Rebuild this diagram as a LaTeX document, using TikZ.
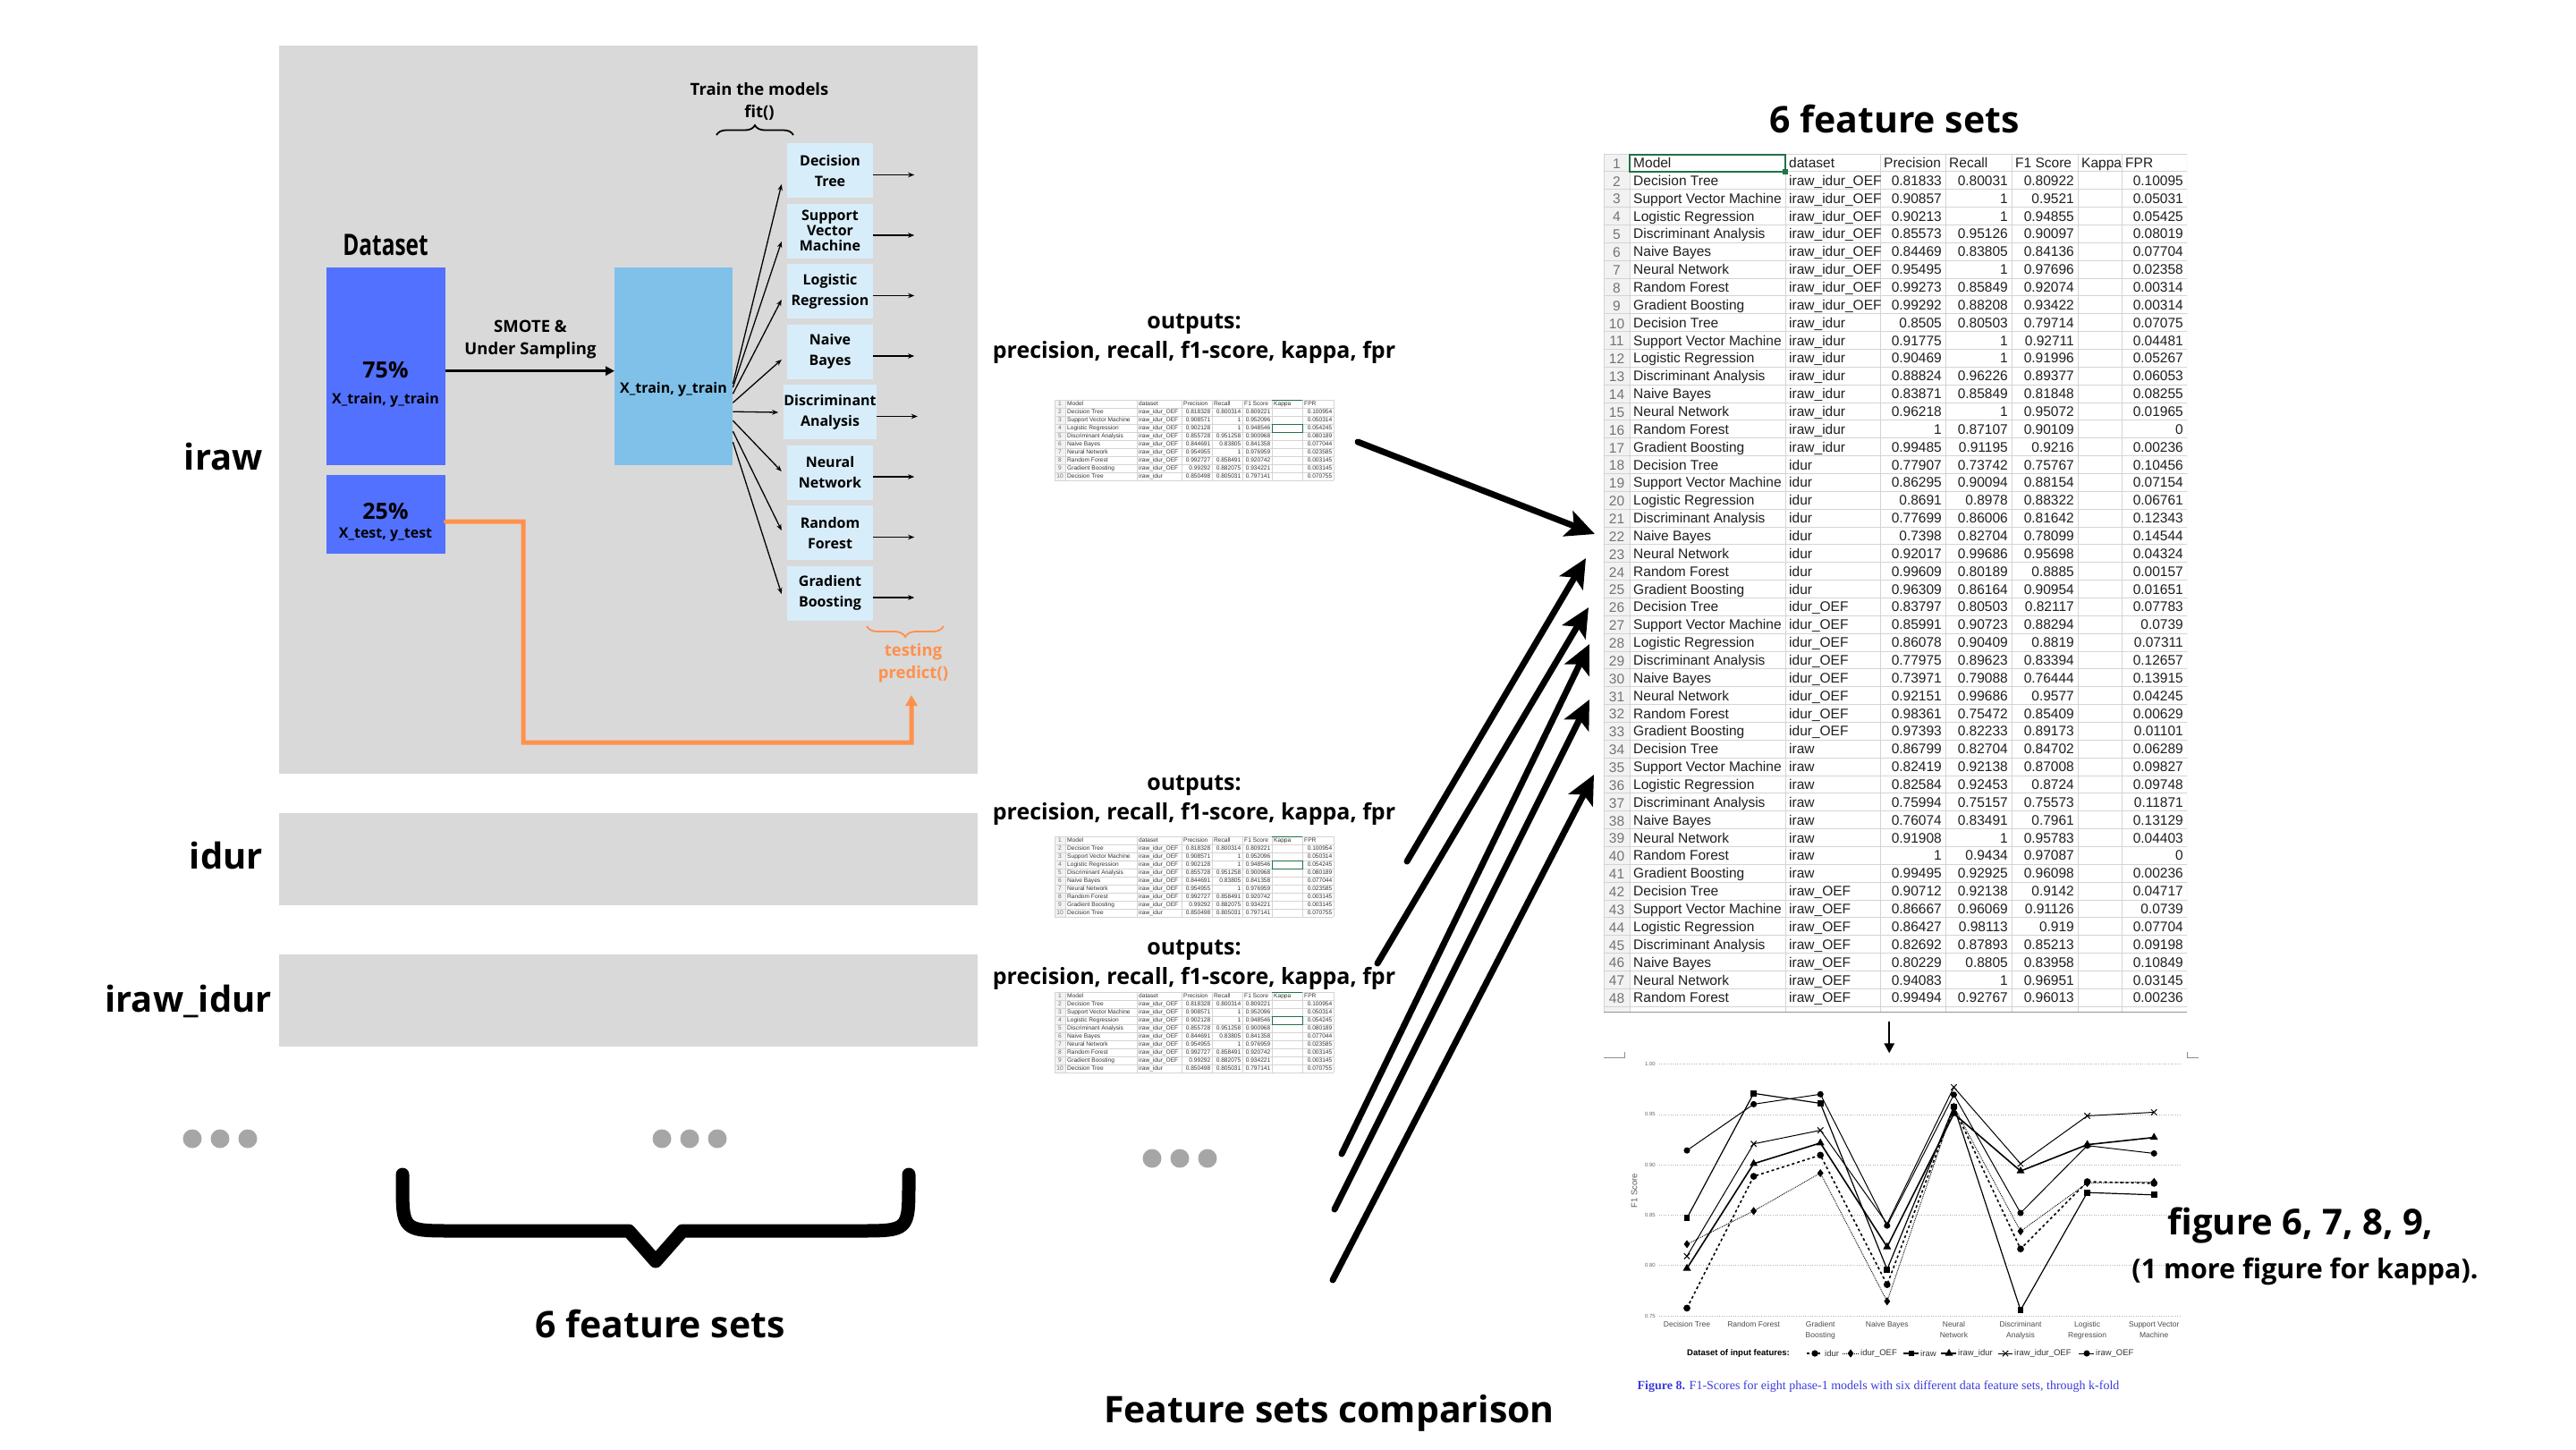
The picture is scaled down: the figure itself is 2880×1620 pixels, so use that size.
\documentclass[tikz,border=0pt]{standalone}
\usepackage{graphicx}
\usepackage{fontspec}
\setmainfont{Open Sans}
\newfontfamily\xlsfont{Liberation Sans}
\newfontfamily\capfont{Liberation Serif}
\usetikzlibrary{positioning,calc,arrows.meta,decorations.pathreplacing,plotmarks}
\definecolor{panelgray}{RGB}{217,217,217}
\definecolor{dsblue}{RGB}{82,113,255}
\definecolor{trainblue}{RGB}{128,193,233}
\definecolor{modelblue}{RGB}{216,237,250}
\definecolor{testorange}{RGB}{255,145,77}
\definecolor{dotgray}{RGB}{166,166,166}
\definecolor{gridgray}{RGB}{212,212,212}
\definecolor{xlgreen}{RGB}{33,115,70}
\definecolor{capblue}{RGB}{60,60,220}
\newcommand\fsz[2]{\fontsize{#1}{#2}\selectfont}
\tikzset{
  stab/.style={font=\xlsfont\fsz{6.6}{7}, inner sep=0pt, text=black!80},
  btab/.style={font=\xlsfont\fsz{15.5}{17}, inner sep=0pt, text=black!88},
}

% little excel screenshot under each outputs label
\newcommand\smalltab[2]{%
\begin{scope}[shift={(#1,#2)}]
  \fill[white] (0,0) rectangle (312,90);
  \fill[black!5] (0,0) rectangle (12,90);
  \foreach \r in {0,...,10} \draw[gridgray, line width=0.5pt] (0,9*\r) -- (312,9*\r);
  \foreach \c in {0,12,92,142,176,210,243,277,312} \draw[gridgray, line width=0.5pt] (\c,0) -- (\c,90);
  \draw[xlgreen, line width=0.8pt] (243,0) -- (277,0);
  \draw[xlgreen, line width=0.8pt] (243,27) rectangle (277,36);
  \node[stab, text=black!55] at (6,4.5) {1};
  \foreach \c/\txt in {14/Model,94/dataset,144/Precision,178/Recall,212/F1 Score,245/Kappa,279/FPR}
    \node[stab, anchor=base west] at (\c,6.9) {\txt};
  \foreach \m/\dd/\p/\rc/\f/\fp [count=\k from 2] in {
    Decision Tree/iraw\_idur\_OEF/0.818328/0.800314/0.809221/0.100954,
    Support Vector Machine/iraw\_idur\_OEF/0.908571/1/0.952096/0.050314,
    Logistic Regression/iraw\_idur\_OEF/0.902128/1/0.948546/0.054245,
    Discriminant Analysis/iraw\_idur\_OEF/0.855728/0.951258/0.900968/0.080189,
    Naive Bayes/iraw\_idur\_OEF/0.844691/0.83805/0.841358/0.077044,
    Neural Network/iraw\_idur\_OEF/0.954955/1/0.976959/0.023585,
    Random Forest/iraw\_idur\_OEF/0.992727/0.858491/0.920742/0.003145,
    Gradient Boosting/iraw\_idur\_OEF/0.99292/0.882075/0.934221/0.003145,
    Decision Tree/iraw\_idur/0.850498/0.805031/0.797141/0.070755}{
    \node[stab, text=black!55] at (6,{9*\k-4.5}) {\k};
    \node[stab, anchor=base west] at (14,{9*\k-2.1}) {\m};
    \node[stab, anchor=base west] at (94,{9*\k-2.1}) {\dd};
    \node[stab, anchor=base east] at (174.5,{9*\k-2.1}) {\p};
    \node[stab, anchor=base east] at (208.5,{9*\k-2.1}) {\rc};
    \node[stab, anchor=base east] at (241.5,{9*\k-2.1}) {\f};
    \node[stab, anchor=base east] at (310.5,{9*\k-2.1}) {\fp};
  }
\end{scope}}

\begin{document}
\begin{tikzpicture}[x=1pt, y=-1pt, >=Stealth,
    panel/.style={fill=panelgray, inner sep=0pt, anchor=north west},
    setlabel/.style={font=\bfseries\fsz{40}{48}, anchor=base east, inner sep=0pt},
    dsbox/.style={fill=dsblue, inner sep=0pt, minimum width=133pt, anchor=north west},
    modelbox/.style={fill=modelblue, inner sep=0pt, minimum width=96pt, minimum height=61pt, align=center, font=\bfseries\fsz{16}{23}},
    fitarrow/.style={line width=1.3pt, -{Stealth[length=7pt,width=5.5pt]}},
    bigarrow/.style={line width=7pt, line cap=round, -{Stealth[length=32pt,width=30pt,inset=7pt]}},
    note/.style={font=\bfseries\fsz{18.5}{25}, align=center, inner sep=0pt},
    outlbl/.style={font=\bfseries\fsz{25}{33}, align=center, inner sep=0pt},
    bigtitle/.style={font=\bfseries\fsz{41}{48}, inner sep=0pt},
    tick/.style={font=\xlsfont\fsz{6}{7}, text=black!60, inner sep=0pt},
    lgd/.style={font=\xlsfont\fsz{9.5}{10}, text=black!80, inner sep=0pt, anchor=west},
    sidur/.style={line width=1.6pt, dashed, mark=*, mark size=3pt, mark options={solid, fill=black}},
    sidurO/.style={line width=0.9pt, densely dotted, mark=diamond*, mark size=3.8pt, mark options={solid, fill=black}},
    siraw/.style={line width=1.2pt, mark=square*, mark size=2.8pt, mark options={fill=black}},
    sirawidur/.style={line width=1.6pt, mark=triangle*, mark size=3.6pt, mark options={fill=black}},
    sirawidurO/.style={line width=1pt, mark=x, mark size=4.5pt},
    sirawO/.style={line width=1pt, mark=*, mark size=3pt, mark options={fill=black}}]

    \useasboundingbox (0,0) rectangle (2880,1620);
    \fill[white] (0,0) rectangle (2880,1620);

    % feature set panels
    \node[panel, minimum width=781pt, minimum height=814pt] (irawp) at (312,51) {};
    \node[panel, minimum width=781pt, minimum height=103pt] (idurp) at (312,909) {};
    \node[panel, minimum width=781pt, minimum height=103pt] (iidp) at (312,1067) {};
    \node[setlabel] (lraw) at (294,525) {iraw};
    \node[setlabel] (ldur) at (294,971) {idur};
    \node[setlabel] (lrawdur) at (304,1131) {iraw\_idur};

    \node[font=\bfseries\fsz{33}{38}, inner sep=0pt] (dstitle) at (431,274) {\scalebox{0.74}[1]{Dataset}};
    \node[dsbox, minimum height=221pt] (train) at (365,299) {};
    \node[dsbox, minimum height=88pt] (test) at (365,531) {};
    \node[font=\bfseries\fsz{25}{30}, inner sep=0pt] (pct75) at (431,414) {75\%};
    \node[font=\bfseries\fsz{16}{20}, inner sep=0pt] (trlbl) at (431,447) {X\_train, y\_train};
    \node[font=\bfseries\fsz{25}{30}, inner sep=0pt] (pct25) at (431,572) {25\%};
    \node[font=\bfseries\fsz{16}{20}, inner sep=0pt] (telbl) at (431,598) {X\_test, y\_test};

    \node[fill=trainblue, inner sep=0pt, minimum width=132pt, minimum height=221pt, anchor=north west] (xtr) at (687,299) {};
    \node[font=\bfseries\fsz{16}{20}, inner sep=0pt] (xtrlbl) at (753,435) {X\_train, y\_train};
    \draw[line width=2.5pt, -{Triangle[length=10pt,width=10pt]}] ($(train.east)+(0,5)$) -- ($(xtr.west)+(0,5)$);
    \node[note] (smote) at (593,380) {SMOTE \&\\Under Sampling};

    \node[note] (fitlbl) at (849,113) {Train the models\\fit()};
    \draw[decorate, decoration={brace, amplitude=11pt}, line width=1.8pt] (801,151) -- (887,151);

    \foreach \i/\txt/\s/\e in {1/{Decision\\Tree}/19.5/15.5, 2/{Support\\[-6pt]Vector\\[-6pt]Machine}/23.5/12,
        3/{Logistic\\Regression}/30.5/9.5, 4/{Naive\\Bayes}/40.5/9, 5/{Discriminant\\Analysis}/50.5/0.5,
        6/{Neural\\Network}/60.5/-1, 7/{Random\\Forest}/72.5/-2.5, 8/{Gradient\\Boosting}/84.5/1}{
        \node[modelbox] (m\i) at (928,{190.5+67.5*(\i-1)}) {\txt};
        \draw[fitarrow] ($(xtr.east)+(0,\s)$) -- ($(m\i.west)+(-6,\e)$);
        \draw[fitarrow] ($(m\i.east)+(0,5)$) -- ++(46,0);
    }

    \node[note, text=testorange] (tst) at (1021,741) {testing\\predict()};
    \draw[decorate, decoration={brace, amplitude=12pt}, testorange, line width=1.8pt] (1055,700) -- (969,700);
    \coordinate (predin) at (1019,777);
    \draw[testorange, line width=5pt, line cap=round, -{Triangle[length=12pt,width=13pt]}]
        ($(test.east)+(0,8)$) -- (585,583) -- (585,830) -- (1019,830) -- (predin);

    \foreach \cx/\cy in {246/1273, 771/1273, 1319/1295}
        \foreach \dx in {-31,0,31} \fill[dotgray] (\cx+\dx,\cy) circle (10.5pt);

    \draw[line width=15pt, line cap=round, line join=round] (450,1313) -- (450,1322) .. controls (450,1376) .. (507,1376)
        -- (703,1376) -- (733,1410) -- (763,1376) -- (959,1376) .. controls (1016,1376) .. (1016,1322) -- (1016,1313);
    \node[bigtitle] (setsA) at (738,1480) {6 feature sets};

    % model outputs
    \node[outlbl] (out1) at (1335,379) {outputs:\\precision, recall, f1-score, kappa, fpr};
    \node[outlbl] (out2) at (1335,895) {outputs:\\precision, recall, f1-score, kappa, fpr};
    \node[outlbl] (out3) at (1335,1079) {outputs:\\precision, recall, f1-score, kappa, fpr};
    \smalltab{1179}{447}
    \smalltab{1179}{935}
    \smalltab{1179}{1109}

    % collected results
    \node[bigtitle] (setsB) at (2118,133) {6 feature sets};
    \node[inner sep=0pt, minimum width=652pt, minimum height=960pt, anchor=north west] (bigtab) at (1793,172) {};
    \begin{scope}[shift={(1793,172)}]
        \def\rh{19.86}
        \clip (0,0) rectangle (652,960);
        \fill[black!5] (0,0) rectangle (29,960);
        \foreach \r in {0,...,48} \draw[gridgray, line width=1pt] (0,\r*\rh) -- (652,\r*\rh);
        \foreach \c in {0,29,203,309,382,456,530,579,652} \draw[gridgray, line width=1pt] (\c,0) -- (\c,960);
        \draw[gridgray!70!black, line width=1pt] (0,959) -- (652,959);
        \draw[xlgreen, line width=2pt] (29,0.5) rectangle (203,\rh);
        \fill[xlgreen] (200,{\rh-3}) rectangle (206,{\rh+3});
        \node[btab, text=black!55] at (14.5,{0.5*\rh+1}) {1};
        \foreach \c/\txt in {33/Model,207/dataset,313/Precision,386/Recall,460/F1 Score,534/Kappa,583/FPR}
            \node[btab, anchor=base west] at (\c,{0.5*\rh+5.5}) {\txt};
        \foreach \m/\dd/\p/\rc/\f/\fp [count=\k from 2] in {
            Decision Tree/iraw\_idur\_OEF/0.81833/0.80031/0.80922/0.10095,
            Support Vector Machine/iraw\_idur\_OEF/0.90857/1/0.9521/0.05031,
            Logistic Regression/iraw\_idur\_OEF/0.90213/1/0.94855/0.05425,
            Discriminant Analysis/iraw\_idur\_OEF/0.85573/0.95126/0.90097/0.08019,
            Naive Bayes/iraw\_idur\_OEF/0.84469/0.83805/0.84136/0.07704,
            Neural Network/iraw\_idur\_OEF/0.95495/1/0.97696/0.02358,
            Random Forest/iraw\_idur\_OEF/0.99273/0.85849/0.92074/0.00314,
            Gradient Boosting/iraw\_idur\_OEF/0.99292/0.88208/0.93422/0.00314,
            Decision Tree/iraw\_idur/0.8505/0.80503/0.79714/0.07075,
            Support Vector Machine/iraw\_idur/0.91775/1/0.92711/0.04481,
            Logistic Regression/iraw\_idur/0.90469/1/0.91996/0.05267,
            Discriminant Analysis/iraw\_idur/0.88824/0.96226/0.89377/0.06053,
            Naive Bayes/iraw\_idur/0.83871/0.85849/0.81848/0.08255,
            Neural Network/iraw\_idur/0.96218/1/0.95072/0.01965,
            Random Forest/iraw\_idur/1/0.87107/0.90109/0,
            Gradient Boosting/iraw\_idur/0.99485/0.91195/0.9216/0.00236,
            Decision Tree/idur/0.77907/0.73742/0.75767/0.10456,
            Support Vector Machine/idur/0.86295/0.90094/0.88154/0.07154,
            Logistic Regression/idur/0.8691/0.8978/0.88322/0.06761,
            Discriminant Analysis/idur/0.77699/0.86006/0.81642/0.12343,
            Naive Bayes/idur/0.7398/0.82704/0.78099/0.14544,
            Neural Network/idur/0.92017/0.99686/0.95698/0.04324,
            Random Forest/idur/0.99609/0.80189/0.8885/0.00157,
            Gradient Boosting/idur/0.96309/0.86164/0.90954/0.01651,
            Decision Tree/idur\_OEF/0.83797/0.80503/0.82117/0.07783,
            Support Vector Machine/idur\_OEF/0.85991/0.90723/0.88294/0.0739,
            Logistic Regression/idur\_OEF/0.86078/0.90409/0.8819/0.07311,
            Discriminant Analysis/idur\_OEF/0.77975/0.89623/0.83394/0.12657,
            Naive Bayes/idur\_OEF/0.73971/0.79088/0.76444/0.13915,
            Neural Network/idur\_OEF/0.92151/0.99686/0.9577/0.04245,
            Random Forest/idur\_OEF/0.98361/0.75472/0.85409/0.00629,
            Gradient Boosting/idur\_OEF/0.97393/0.82233/0.89173/0.01101,
            Decision Tree/iraw/0.86799/0.82704/0.84702/0.06289,
            Support Vector Machine/iraw/0.82419/0.92138/0.87008/0.09827,
            Logistic Regression/iraw/0.82584/0.92453/0.8724/0.09748,
            Discriminant Analysis/iraw/0.75994/0.75157/0.75573/0.11871,
            Naive Bayes/iraw/0.76074/0.83491/0.7961/0.13129,
            Neural Network/iraw/0.91908/1/0.95783/0.04403,
            Random Forest/iraw/1/0.9434/0.97087/0,
            Gradient Boosting/iraw/0.99495/0.92925/0.96098/0.00236,
            Decision Tree/iraw\_OEF/0.90712/0.92138/0.9142/0.04717,
            Support Vector Machine/iraw\_OEF/0.86667/0.96069/0.91126/0.0739,
            Logistic Regression/iraw\_OEF/0.86427/0.98113/0.919/0.07704,
            Discriminant Analysis/iraw\_OEF/0.82692/0.87893/0.85213/0.09198,
            Naive Bayes/iraw\_OEF/0.80229/0.8805/0.83958/0.10849,
            Neural Network/iraw\_OEF/0.94083/1/0.96951/0.03145,
            Random Forest/iraw\_OEF/0.99494/0.92767/0.96013/0.00236}{
            \node[btab, text=black!55] at (14.5,{(\k-0.5)*\rh+1}) {\k};
            \node[btab, anchor=base west] at (33,{(\k-0.5)*\rh+5.5}) {\m};
            \node[btab, anchor=base west] at (207,{(\k-0.5)*\rh+5.5}) {\dd};
            \node[btab, anchor=base east] at (378,{(\k-0.5)*\rh+5.5}) {\p};
            \node[btab, anchor=base east] at (452,{(\k-0.5)*\rh+5.5}) {\rc};
            \node[btab, anchor=base east] at (526,{(\k-0.5)*\rh+5.5}) {\f};
            \node[btab, anchor=base east] at (648,{(\k-0.5)*\rh+5.5}) {\fp};
        }
    \end{scope}

    \foreach \i/\sx/\sy/\tx/\ty in {1/1518/494/1783/597, 2/1573/963/1773/624, 3/1540/1077/1776/679,
        4/1500/1290/1777/720, 5/1492/1352/1777/782, 6/1490/1431/1782/866}{
        \coordinate (from\i) at (\sx,\sy);
        \coordinate (to\i) at (\tx,\ty);
        \draw[bigarrow] (from\i) -- (to\i);
    }
    \draw[line width=2.5pt, -{Triangle[length=11pt,width=11pt]}] ([xshift=-7pt,yshift=-10pt]bigtab.south) -- ++(0,35);

    % F1 chart
    \draw[black!45, line width=0.8pt] (1793,1182) -- (1816,1182) -- (1816,1176);
    \draw[black!45, line width=0.8pt] (2445,1176) -- (2445,1182) -- (2458,1182);
    \node[font=\xlsfont\fsz{9.5}{10}, text=black!65, rotate=90, inner sep=0pt] (ylbl) at (1827,1331) {F1 Score};
    \begin{scope}[x=74.6pt, y=1126pt, shift={(1886pt,-2315.5pt)}]
        \foreach \v in {0.75,0.80,0.85,0.90,0.95,1.00}{
            \draw[black!30, dotted, line width=0.6pt] (-0.42,\v) -- (7.4,\v);
            \node[tick] at (-0.55,\v) {\v};
        }
        \foreach \i/\txt in {0/Decision Tree, 1/Random Forest, 2/{Gradient\\Boosting}, 3/Naive Bayes,
            4/{Neural\\Network}, 5/{Discriminant\\Analysis}, 6/{Logistic\\Regression}, 7/{Support Vector\\Machine}}
            \node[font=\xlsfont\fsz{8.5}{12.5}, text=black!70, align=center, anchor=north, inner sep=0pt] (cat\i) at (\i,0.7447) {\txt};
        \draw[sidur] plot coordinates {(0,0.75767) (1,0.8885) (2,0.90954) (3,0.78099) (4,0.95698) (5,0.81642) (6,0.88322) (7,0.88154)};
        \draw[sidurO] plot coordinates {(0,0.82117) (1,0.85409) (2,0.89173) (3,0.76444) (4,0.9577) (5,0.83394) (6,0.8819) (7,0.88294)};
        \draw[siraw] plot coordinates {(0,0.84702) (1,0.97087) (2,0.96098) (3,0.7961) (4,0.95783) (5,0.75573) (6,0.8724) (7,0.87008)};
        \draw[sirawidur] plot coordinates {(0,0.79714) (1,0.90109) (2,0.9216) (3,0.81848) (4,0.95072) (5,0.89377) (6,0.91996) (7,0.92711)};
        \draw[sirawidurO] plot coordinates {(0,0.80922) (1,0.92074) (2,0.93422) (3,0.84136) (4,0.97696) (5,0.90097) (6,0.94855) (7,0.9521)};
        \draw[sirawO] plot coordinates {(0,0.9142) (1,0.96013) (2,0.970) (3,0.83958) (4,0.96951) (5,0.85213) (6,0.919) (7,0.91126)};
    \end{scope}

    \node[lgd, font=\xlsfont\bfseries\fsz{9.5}{10}, text=black] (lgdhead) at (1886,1513) {Dataset of input features:};
    \draw[sidur, line width=1.2pt, mark phase=2, mark repeat=3] plot coordinates {(2020,1513) (2029,1513) (2038,1513)};
    \node[lgd] (lg1) at (2040,1513) {idur};
    \draw[sidurO, mark phase=2, mark repeat=3] plot coordinates {(2060,1513) (2069,1513) (2078,1513)};
    \node[lgd] (lg2) at (2080,1513) {idur\_OEF};
    \draw[siraw, mark phase=2, mark repeat=3] plot coordinates {(2128,1513) (2137,1513) (2145,1513)};
    \node[lgd] (lg3) at (2147,1513) {iraw};
    \draw[sirawidur, mark phase=2, mark repeat=3] plot coordinates {(2170,1513) (2179,1513) (2187,1513)};
    \node[lgd] (lg4) at (2189,1513) {iraw\_idur};
    \draw[sirawidurO, mark phase=2, mark repeat=3] plot coordinates {(2234,1513) (2242,1513) (2250,1513)};
    \node[lgd] (lg5) at (2252,1513) {iraw\_idur\_OEF};
    \draw[sirawO, mark phase=2, mark repeat=3] plot coordinates {(2324,1513) (2333,1513) (2341,1513)};
    \node[lgd] (lg6) at (2343,1513) {iraw\_OEF};

    \node[font=\capfont\fsz{14}{16}, text=capblue, inner sep=0pt] (caption) at (2100,1550)
        {\textbf{Figure 8.} F1-Scores for eight phase-1 models with six different data feature sets, through k-fold};

    \node[font=\bfseries\fsz{40}{48}, inner sep=0pt] (figs) at (2572,1370) {figure 6, 7, 8, 9,};
    \node[font=\bfseries\fsz{30.5}{36}, inner sep=0pt] (kappa) at (2577,1421) {(1 more figure for kappa).};
    \node[bigtitle] (cmp) at (1486,1580) {Feature sets comparison};

\end{tikzpicture}
\end{document}
